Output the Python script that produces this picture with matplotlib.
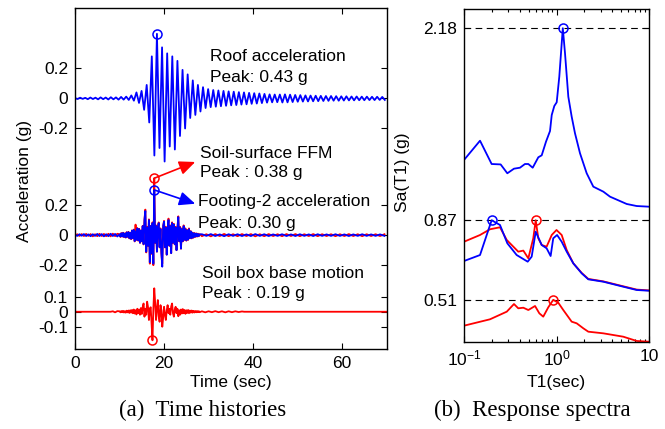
import matplotlib
matplotlib.use("Agg")
import matplotlib.pyplot as plt
import numpy as np

plt.rcParams['font.family'] = ['Liberation Sans', 'DejaVu Sans']
plt.rcParams['mathtext.fontset'] = 'custom'
plt.rcParams['mathtext.rm'] = 'Liberation Sans'
plt.rcParams['mathtext.it'] = 'Liberation Sans'

# --- time histories (g); each trace = segments of (start time, step, values) ---
roof_acc = [
    0.002, -0.004, 0.005, -0.003, 0.004, -0.005, 0.006, -0.004, 0.005, -0.006,
    0.007, -0.005, 0.006, -0.007, 0.008, -0.006, 0.007, -0.008, 0.010, -0.008,
    0.012, -0.010, 0.020, -0.015, 0.040, -0.030, 0.050, -0.076, 0.090, -0.160,
    0.280, -0.380, 0.430, -0.330, 0.340, -0.420, 0.300, -0.320, 0.280, -0.340,
    0.250, -0.250, 0.190, -0.200, 0.160, -0.130, 0.120, -0.110, 0.090, -0.087,
    0.075, -0.064, 0.062, -0.058, 0.056, -0.055, 0.053, -0.052, 0.050, -0.049,
    0.047, -0.046, 0.045, -0.044, 0.042, -0.041, 0.040, -0.039, 0.037, -0.036,
    0.035, -0.034, 0.033, -0.031, 0.030, -0.028, 0.027, -0.026, 0.026, -0.025,
    0.026, -0.027, 0.027, -0.026, 0.025, -0.024, 0.023, -0.022, 0.022, -0.021,
    0.020, -0.020, 0.019, -0.019, 0.018, -0.018, 0.017, -0.017, 0.016, -0.016,
    0.016, -0.015, 0.015, -0.015, 0.014, -0.014, 0.014, -0.013, 0.013, -0.013,
    0.013, -0.012, 0.012, -0.012, 0.012, -0.011, 0.011, -0.011, 0.011, -0.010,
    0.010, -0.010]

footing_pre = [0.003, -0.005, 0.006, -0.004, 0.007, -0.006, 0.005, -0.007, 0.006, -0.005,
               0.008, -0.006, 0.007, -0.008, 0.006, -0.007, 0.009, -0.006, 0.008, -0.009]
footing_main = [
    0.005, -0.010, 0.012, -0.008, 0.015, -0.012, 0.010, -0.015, 0.018, -0.010,
    0.020, -0.020, 0.015, -0.025, 0.030, -0.020, 0.035, -0.040, 0.025, -0.030,
    0.045, -0.035, 0.040, -0.050, 0.030, -0.040, 0.060, -0.060, 0.100, 0.160,
    -0.110, 0.050, -0.070, 0.100, -0.180, 0.060, -0.120, 0.080, -0.190, 0.300,
    -0.050, 0.060, -0.110, 0.050, 0.080, -0.080, 0.040, -0.120, -0.210, 0.060,
    0.090, -0.080, 0.050, -0.130, 0.040, 0.100, -0.070, 0.060, -0.120, 0.080,
    -0.050, 0.070, -0.060, 0.050, -0.100, 0.040, 0.120, -0.040, 0.050, -0.090,
    0.040, -0.040, 0.060, -0.030, 0.040, -0.035, 0.030, -0.030, 0.040, -0.020,
    0.025, -0.020, 0.015, -0.015, 0.012, -0.010, 0.010, -0.008, 0.008, -0.006,
    0.005]
footing_post = [0.006, -0.005, 0.007, -0.006, 0.005, -0.007, 0.006, -0.005, 0.006, -0.006,
                0.005, -0.006, 0.007, -0.005, 0.006, -0.006, 0.005, -0.005, 0.006, -0.006,
                0.005, -0.006, 0.006, -0.005, 0.005, -0.006, 0.006, -0.005, 0.005, -0.005,
                0.006, -0.005, 0.005, -0.006, 0.005, -0.005, 0.006, -0.005, 0.005, -0.005,
                0.005, -0.005]

ffm_pre = [-0.004, 0.006, -0.005, 0.007, -0.006, 0.008, -0.005, 0.007, -0.008, 0.006,
           -0.007, 0.009, -0.006, 0.008, -0.007, 0.009, -0.008, 0.010, -0.007, 0.009]
ffm_main = [
    0.006, -0.012, 0.014, -0.010, 0.016, -0.013, 0.012, -0.016, 0.020, -0.012,
    0.022, -0.022, 0.017, -0.027, 0.032, -0.022, 0.037, -0.042, 0.070, -0.032,
    0.047, -0.037, 0.042, -0.052, 0.032, -0.042, 0.062, -0.062, 0.105, 0.170,
    -0.115, 0.055, -0.072, 0.105, -0.190, 0.062, -0.125, 0.085, -0.200, 0.380,
    -0.052, 0.065, -0.110, 0.055, 0.085, -0.082, 0.045, -0.120, -0.190, 0.065,
    0.095, -0.082, 0.055, -0.130, 0.045, 0.110, -0.072, 0.065, -0.120, 0.085,
    -0.052, 0.075, -0.062, 0.055, -0.100, 0.045, 0.125, -0.042, 0.055, -0.090,
    0.045, -0.042, 0.065, -0.032, 0.045, -0.037, 0.035, -0.032, 0.045, -0.022,
    0.027, -0.022, 0.017, -0.017, 0.014, -0.012, 0.012, -0.010, 0.010, -0.008,
    0.007]
ffm_post = [-0.007, 0.006, -0.008, 0.007, -0.006, 0.008, -0.007, 0.006, -0.007, 0.007,
            -0.006, 0.007, -0.008, 0.006, -0.007, 0.007, -0.006, 0.006, -0.007, 0.007,
            -0.006, 0.007, -0.007, 0.006, -0.006, 0.007, -0.007, 0.006, -0.006, 0.006,
            -0.007, 0.006, -0.006, 0.007, -0.006, 0.006, -0.007, 0.006, -0.006, 0.006,
            -0.006, 0.006]

base_flat = [0.0, 0.0]
base_pre = [0.003, -0.004, 0.004]
base_main = [
    0.003, -0.004, 0.005, -0.003, 0.006, -0.005, 0.004, -0.006, 0.007, -0.004,
    0.008, -0.008, 0.010, -0.006, 0.012, -0.010, 0.015, -0.012, 0.010, -0.018,
    0.020, -0.010, 0.015, -0.020, 0.025, -0.015, 0.030, 0.055, -0.033, 0.020,
    -0.020, 0.067, 0.030, -0.055, 0.020, 0.030, -0.080, -0.190, 0.020, 0.156,
    0.060, -0.055, 0.020, 0.078, -0.030, -0.067, 0.044, 0.010, -0.100, -0.040,
    0.033, -0.020, -0.055, 0.010, 0.044, -0.010, 0.020, -0.020, 0.035, 0.055,
    -0.010, -0.033, 0.015, 0.033, -0.010, 0.020, -0.030, 0.010, -0.020, 0.015,
    -0.012, 0.018, -0.010, 0.012, -0.014, 0.010, -0.008, 0.012, -0.010, 0.008,
    -0.006, 0.008, -0.006, 0.006, -0.005, 0.005, -0.004, 0.005, -0.003, 0.004,
    -0.003]
base_post = [0.003, -0.004, 0.003, -0.003, 0.004, -0.003, 0.003, -0.004, 0.003, -0.003,
             0.003, -0.002, 0.002]

# vertical offsets used to stack the records
off_base, off_footing, off_roof = 0.0, 0.51, 1.42

# --- response spectra ---
T_roof = [0.1, 0.149, 0.199, 0.249, 0.294, 0.347, 0.403, 0.456, 0.496, 0.553, 0.636,
          0.692, 0.77, 0.851, 0.888, 0.947, 1.005, 1.072, 1.17, 1.236, 1.342, 1.459,
          1.585, 1.795, 2.12, 2.50, 3.21, 3.79, 5.74, 7.36, 10.0]
Sa_roof = [0.574, 0.809, 0.525, 0.52, 0.412, 0.468, 0.48, 0.525, 0.525, 0.48, 0.607,
           0.631, 0.797, 0.927, 1.122, 1.232, 1.277, 1.589, 2.18, 1.874, 1.345, 1.102,
           0.899, 0.656, 0.412, 0.249, 0.188, 0.127, 0.038, 0.013, 0.005]
T_footing = [0.1, 0.149, 0.199, 0.245, 0.294, 0.371, 0.488, 0.539, 0.596, 0.692, 0.782,
             0.864, 0.922, 1.015, 1.138, 1.289, 1.519, 1.872, 2.207, 3.206, 5.27, 7.36, 10.0]
Sa_footing = [0.373, 0.446, 0.87, 0.812, 0.589, 0.446, 0.365, 0.426, 0.73, 0.568, 0.528,
              0.434, 0.65, 0.69, 0.608, 0.487, 0.345, 0.223, 0.15, 0.121, 0.06, 0.02, 0.011]
T_ffm = [0.1, 0.149, 0.191, 0.245, 0.29, 0.386, 0.438, 0.496, 0.561, 0.596, 0.636, 0.692,
         0.782, 0.888, 1.0, 1.138, 1.289, 1.519, 1.872, 2.207, 3.206, 5.27, 7.36, 10.0]
Sa_ffm = [0.608, 0.69, 0.76, 0.784, 0.629, 0.487, 0.50, 0.406, 0.65, 0.87, 0.65, 0.568,
          0.548, 0.69, 0.751, 0.69, 0.507, 0.345, 0.228, 0.155, 0.125, 0.065, 0.025, 0.015]
T_base = [0.1, 0.191, 0.29, 0.347, 0.386, 0.438, 0.496, 0.586, 0.652, 0.719, 0.815,
          0.922, 1.045, 1.184, 1.459, 1.653, 1.95, 2.207, 3.206, 5.27, 7.36, 10.0]
Sa_base = [0.195, 0.273, 0.366, 0.459, 0.407, 0.414, 0.386, 0.435, 0.346, 0.305, 0.419,
           0.51, 0.475, 0.386, 0.244, 0.224, 0.163, 0.122, 0.102, 0.061, 0.009, 0.0]
peaks_sa = [0.51, 0.87, 2.18]
off_sa_base, off_sa_footing, off_sa_roof = 0.0, 0.61, 1.64


def trace(*segments):
    ts, vs = [], []
    for t0, dt, vals in segments:
        ts.append(t0 + dt * np.arange(len(vals)))
        vs.append(np.asarray(vals))
    return np.concatenate(ts), np.concatenate(vs)


t_roof, a_roof = trace((0.0, 0.575, roof_acc))
t_foot, a_foot = trace((0.0, 0.5, footing_pre), (10.0, 0.2, footing_main), (28.5, 1.0, footing_post))
t_ffm, a_ffm = trace((0.0, 0.5, ffm_pre), (10.0, 0.2, ffm_main), (28.5, 1.0, ffm_post))
t_base, a_base = trace((0.0, 8.0, base_flat), (8.5, 0.5, base_pre), (10.0, 0.2, base_main),
                       (28.5, 0.75, base_post), (38.0, 32.0, base_flat))

fig = plt.figure(figsize=(6.65, 4.29), dpi=100)
W, H = 665.0, 429.0


def fx(px):
    return px / W


def fy(py):
    return 1 - py / H


lw_sig = 1.3
fs = 12.5

# ---------------- (a) time histories ----------------
ax1 = fig.add_axes([fx(75), fy(349.3), (386.7 - 75) / W, (349.3 - 8.3) / H])
ax1.plot(t_base, a_base + off_base, color='r', lw=lw_sig)
ax1.plot(t_ffm, a_ffm + off_footing, color='r', lw=lw_sig)
ax1.plot(t_foot, a_foot + off_footing, color='b', lw=lw_sig)
ax1.plot(t_roof, a_roof + off_roof, color='b', lw=lw_sig)

i = int(np.argmax(a_roof))
ax1.plot(t_roof[i], a_roof[i] + off_roof, 'o', mfc='none', mec='b', ms=6.5, mew=1.1)
i = int(np.argmax(a_ffm))
ax1.plot(t_ffm[i], a_ffm[i] + off_footing, 'o', mfc='none', mec='r', ms=6.5, mew=1.1)
i = int(np.argmax(a_foot))
ax1.plot(t_foot[i], a_foot[i] + off_footing, 'o', mfc='none', mec='b', ms=6.5, mew=1.1)
i = int(np.argmin(a_base))
ax1.plot(t_base[i], a_base[i] + off_base, 'o', mfc='none', mec='r', ms=6.5, mew=1.1)

ax1.set_xlim(0, 70)
ax1.set_ylim(-0.25, 2.02)
ax1.set_xticks([0, 20, 40, 60])
yt = [off_base - 0.1, off_base, off_base + 0.1,
      off_footing - 0.2, off_footing, off_footing + 0.2,
      off_roof - 0.2, off_roof, off_roof + 0.2]
ax1.set_yticks(yt)
ax1.set_yticklabels(['-0.1', '0', '0.1', '-0.2', '0', '0.2', '-0.2', '0', '0.2'])

ax1.text(30.3, 1.697, 'Roof acceleration', fontsize=fs, va='center')
ax1.text(30.3, 1.557, 'Peak: 0.43 g', fontsize=fs, va='center')
ax1.text(28.1, 1.052, 'Soil-surface FFM', fontsize=fs, va='center')
ax1.text(28.1, 0.927, 'Peak : 0.38 g', fontsize=fs, va='center')
ax1.text(27.6, 0.734, 'Footing-2 acceleration', fontsize=fs, va='center')
ax1.text(27.6, 0.590, 'Peak: 0.30 g', fontsize=fs, va='center')
ax1.text(28.5, 0.257, 'Soil box base motion', fontsize=fs, va='center')
ax1.text(28.5, 0.119, 'Peak : 0.19 g', fontsize=fs, va='center')

ax1.annotate('', xy=(27.0, 0.997), xytext=(17.9, 0.89),
             arrowprops=dict(arrowstyle='-|>,head_length=0.8,head_width=0.35', color='r',
                             lw=1.2, mutation_scale=12, shrinkA=0, shrinkB=0))
ax1.annotate('', xy=(27.0, 0.719), xytext=(17.9, 0.81),
             arrowprops=dict(arrowstyle='-|>,head_length=0.8,head_width=0.35', color='b',
                             lw=1.2, mutation_scale=12, shrinkA=0, shrinkB=0))

# ---------------- (b) response spectra ----------------
ax2 = fig.add_axes([fx(464), fy(341.7), (649 - 464) / W, (341.7 - 9.3) / H])
ax2.set_xscale('log')
levels = [peaks_sa[0] + off_sa_base, peaks_sa[1] + off_sa_footing, peaks_sa[2] + off_sa_roof]
for lv in levels:
    ax2.axhline(lv, color='k', ls=(0, (6, 4)), lw=0.8)

ax2.plot(T_base, np.array(Sa_base) + off_sa_base, color='r', lw=lw_sig)
ax2.plot(T_ffm, np.array(Sa_ffm) + off_sa_footing, color='r', lw=lw_sig)
ax2.plot(T_footing, np.array(Sa_footing) + off_sa_footing, color='b', lw=lw_sig)
ax2.plot(T_roof, np.array(Sa_roof) + off_sa_roof, color='b', lw=lw_sig)

for T, Sa, off, c in [(T_base, Sa_base, off_sa_base, 'r'), (T_ffm, Sa_ffm, off_sa_footing, 'r'),
                      (T_footing, Sa_footing, off_sa_footing, 'b'), (T_roof, Sa_roof, off_sa_roof, 'b')]:
    k = int(np.argmax(Sa))
    ax2.plot(T[k], Sa[k] + off, 'o', mfc='none', mec=c, ms=6.5, mew=1.1)

ax2.set_xlim(0.1, 10)
ax2.set_ylim(0, 4.05)
ax2.set_yticks(levels)
ax2.set_yticklabels(['%.2f' % p for p in peaks_sa])
ax2.set_xticks([0.1, 1, 10])
ax2.set_xticklabels(['$10^{-1}$', '$10^{0}$', '10'])

for ax in (ax1, ax2):
    ax.tick_params(which='both', direction='in', top=True, right=True, labelsize=fs,
                   width=0.8)
    ax.tick_params(which='major', length=4, pad=5)
    ax.tick_params(which='minor', length=2.5)
    for s in ax.spines.values():
        s.set_linewidth(1.0)

fig.text(fx(25), fy(181), 'Acceleration (g)', rotation=90, fontsize=fs, ha='center', va='center')
fig.text(fx(231), fy(383), 'Time (sec)', fontsize=fs, ha='center', va='center')
fig.text(fx(402), fy(172), 'Sa(T1) (g)', rotation=90, fontsize=fs, ha='center', va='center')
fig.text(fx(556), fy(383), 'T1(sec)', fontsize=fs, ha='center', va='center')

fig.text(fx(203), fy(410), '(a)  Time histories', fontsize=16.5, family='Liberation Serif',
         ha='center', va='center')
fig.text(fx(532), fy(410), '(b)  Response spectra', fontsize=16.5, family='Liberation Serif',
         ha='center', va='center')

fig.savefig('out.png', dpi=100)
